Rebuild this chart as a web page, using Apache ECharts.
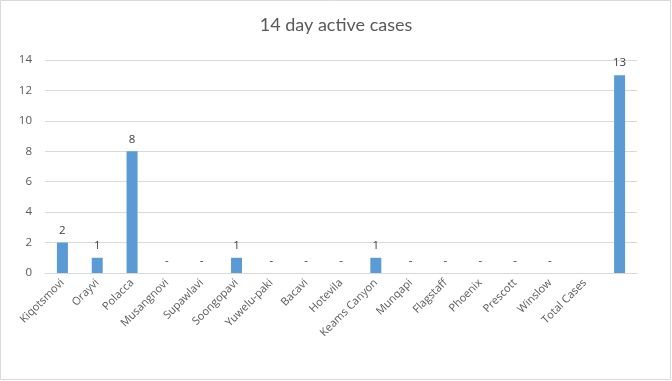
<!DOCTYPE html>
<html><head><meta charset="utf-8">
<script src="https://cdn.jsdelivr.net/npm/echarts@6/dist/echarts.min.js"></script>
<style>html,body{margin:0;padding:0;background:#fff}#c{width:672px;height:381px}</style>
</head><body><div id="c"></div>
<script>
var categories = ['Kiqotsmovi','Orayvi','Polacca','Musangnovi','Supawlavi','Soongopavi','Yuwelu-paki','Bacavi','Hotevila','Keams Canyon','Munqapi','Flagstaff','Phoenix','Prescott','Winslow','Total Cases',''];
var values = [2,1,8,0,0,1,0,0,0,1,0,0,0,0,0,null,13];
var yTicks = {min:0, max:14, interval:2};

var chart = echarts.init(document.getElementById('c'));
chart.setOption({
  animation:false,
  title:{text:'14 day active cases', left:'center', top:11,
    textStyle:{fontFamily:'Lato', fontSize:18, fontWeight:'normal', color:'#595959'}},
  graphic:[{type:'rect', shape:{x:0.5,y:0.5,width:670,height:379}, style:{fill:'none', stroke:'#d9d9d9', lineWidth:1}}],
  grid:{left:45, right:35, top:60, bottom:108},
  xAxis:{type:'category', data:categories,
    axisLine:{lineStyle:{color:'#d9d9d9'}}, axisTick:{show:false},
    axisLabel:{interval:0, rotate:45, color:'#595959', fontFamily:'Open Sans', fontSize:11, margin:8}},
  yAxis:{type:'value', min:yTicks.min, max:yTicks.max, interval:yTicks.interval,
    axisLine:{show:false}, axisTick:{show:false},
    splitLine:{lineStyle:{color:'#d9d9d9'}},
    axisLabel:{color:'#595959', fontFamily:'Open Sans', fontSize:11.5, margin:13}},
  series:[{type:'bar', data:values, barWidth:11,
    itemStyle:{color:'#5b9bd5'},
    label:{show:true, position:'top', distance:6, color:'#404040', fontFamily:'Open Sans', fontSize:11.5,
      formatter:function(p){return p.value===0?'-':p.value;}}}]
});
</script></body></html>
